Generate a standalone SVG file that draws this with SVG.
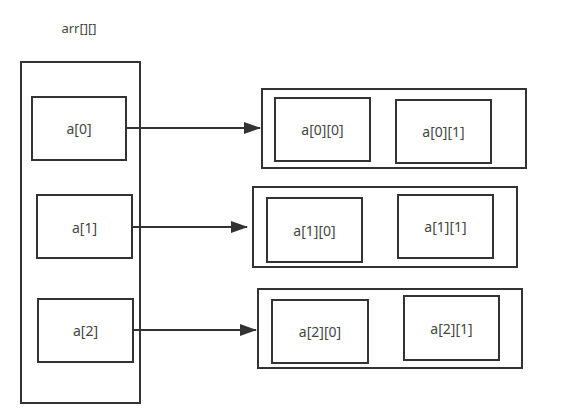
<svg xmlns="http://www.w3.org/2000/svg" width="565" height="415" viewBox="0 0 565 415">
<style>
.b{fill:none;stroke:#333;stroke-width:2}
.t{font-family:"Noto Sans","Open Sans",sans-serif;font-size:14px;fill:#444;text-anchor:middle;dominant-baseline:central}
.c{stroke:#333;stroke-width:2;fill:none}
</style>
<defs>
<marker id="ah" markerWidth="17" markerHeight="12" refX="16" refY="6" orient="auto" markerUnits="userSpaceOnUse">
<path d="M0,0 L17,6 L0,12 Z" fill="#333"/>
</marker>
</defs>
<rect width="565" height="415" fill="#fff"/>
<g id="title"><text class="t" x="79" y="28" style="font-size:13px">arr[][]</text></g>
<g id="arr"><rect class="b" x="21" y="62" width="119" height="341"/></g>
<g id="a0"><rect class="b" x="32" y="97" width="94" height="63"/><text class="t" x="79" y="128.5">a[0]</text></g>
<g id="a1"><rect class="b" x="37" y="195" width="95" height="63"/><text class="t" x="84.5" y="227">a[1]</text></g>
<g id="a2"><rect class="b" x="38" y="299" width="95" height="63"/><text class="t" x="85.5" y="330.5">a[2]</text></g>
<g id="row0"><rect class="b" x="262" y="89" width="264" height="79"/></g>
<g id="a00"><rect class="b" x="275" y="98" width="95" height="63"/><text class="t" x="322.5" y="129.5">a[0][0]</text></g>
<g id="a01"><rect class="b" x="396" y="100" width="95" height="63"/><text class="t" x="443.5" y="131.5">a[0][1]</text></g>
<g id="row1"><rect class="b" x="253" y="187" width="264" height="80"/></g>
<g id="a10"><rect class="b" x="267" y="198" width="95" height="64"/><text class="t" x="314.5" y="230">a[1][0]</text></g>
<g id="a11"><rect class="b" x="398" y="195" width="95" height="63"/><text class="t" x="445.5" y="226.5">a[1][1]</text></g>
<g id="row2"><rect class="b" x="258" y="289" width="264" height="79"/></g>
<g id="a20"><rect class="b" x="272" y="300" width="96" height="63"/><text class="t" x="320" y="331.5">a[2][0]</text></g>
<g id="a21"><rect class="b" x="404" y="296" width="95" height="64"/><text class="t" x="451.5" y="328">a[2][1]</text></g>
<g id="connectors">
<line class="c" x1="126" y1="128" x2="260" y2="128" marker-end="url(#ah)"/>
<line class="c" x1="132" y1="227" x2="247" y2="227" marker-end="url(#ah)"/>
<line class="c" x1="133" y1="330" x2="256" y2="330" marker-end="url(#ah)"/>
</g>
</svg>
